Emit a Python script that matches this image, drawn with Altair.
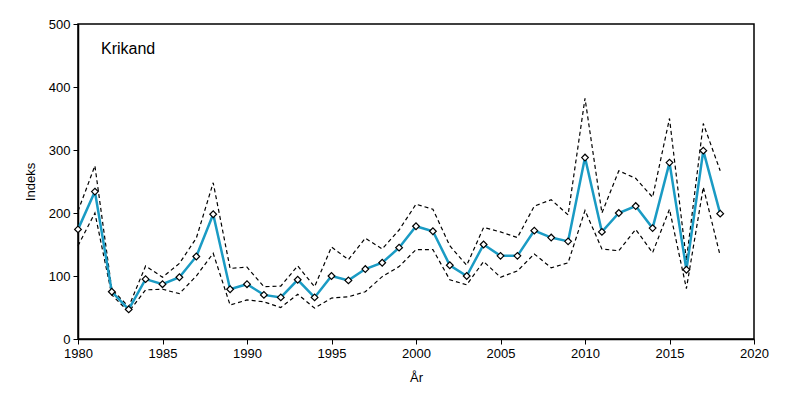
import altair as alt
import pandas as pd

years = list(range(1980, 2019))
index = [174, 234, 75, 47, 95, 87, 98, 131, 198, 79, 87, 70, 66, 94, 66, 100, 93, 111, 121, 145,
         179, 171, 117, 100, 150, 132, 132, 172, 161, 155, 288, 170, 200, 211, 176, 280, 110, 299, 199]
upper = [203, 275, 79, 51, 116, 98, 120, 160, 248, 112, 114, 83, 84, 116, 83, 146, 126, 160, 143, 173,
         214, 206, 148, 117, 177, 170, 161, 211, 221, 197, 382, 200, 267, 255, 225, 350, 125, 342, 267]
lower = [148, 200, 70, 43, 78, 79, 72, 100, 136, 54, 62, 59, 50, 71, 49, 65, 67, 75, 99, 115,
         142, 142, 94, 86, 123, 98, 108, 135, 113, 121, 204, 143, 140, 174, 137, 206, 80, 241, 132]
title_text = "Krikand"

df = pd.DataFrame({"year": years, "index": index, "upper": upper, "lower": lower})
bounds = pd.concat([
    pd.DataFrame({"year": years, "value": upper, "bound": "upper"}),
    pd.DataFrame({"year": years, "value": lower, "bound": "lower"}),
])

font = "Liberation Sans"
xscale = alt.Scale(domain=[1980, 2020], nice=False, zero=False)
yscale = alt.Scale(domain=[0, 500], nice=False)
xaxis = alt.Axis(title="År", values=list(range(1980, 2021, 5)), format="d", grid=False,
                 labelFlush=False, labelOverlap=False)
yaxis = alt.Axis(title="Indeks", values=list(range(0, 501, 100)), grid=False,
                 labelFlush=False, labelOverlap=False)

dashed = alt.Chart(bounds).mark_line(color="black", strokeDash=[4, 3], strokeWidth=1.2).encode(
    x=alt.X("year:Q", scale=xscale, axis=xaxis),
    y=alt.Y("value:Q", scale=yscale, axis=yaxis),
    detail="bound:N",
)

line = alt.Chart(df).mark_line(color="#1a9bc4", strokeWidth=2.5).encode(
    x=alt.X("year:Q", scale=xscale),
    y=alt.Y("index:Q", scale=yscale),
)

points = alt.Chart(df).mark_point(shape="diamond", filled=True, fill="white", stroke="black",
                                  strokeWidth=1.2, size=45, opacity=1).encode(
    x=alt.X("year:Q", scale=xscale),
    y=alt.Y("index:Q", scale=yscale),
)

label = alt.Chart(pd.DataFrame({"t": [title_text]})).mark_text(
    align="left", baseline="middle", fontSize=16, font=font, color="black"
).encode(x=alt.value(23), y=alt.value(25), text="t:N")

chart = alt.layer(dashed, line, points, label).properties(
    width=676, height=315,
    autosize=alt.AutoSizeParams(type="none"),
    padding={"left": 70, "top": 16, "right": 30, "bottom": 52},
).configure_view(
    stroke="black", strokeWidth=1.5
).configure_axis(
    domainColor="black", domainWidth=1.5, tickColor="black", tickSize=5,
    labelFont=font, labelFontSize=13, labelColor="black",
    titleFont=font, titleFontSize=13, titleFontWeight="normal", titleColor="black",
).configure_axisY(titlePadding=11, labelPadding=3).configure_axisX(titlePadding=11, labelPadding=3)

chart.save("out.html", embed_options={"renderer": "svg", "actions": False})
